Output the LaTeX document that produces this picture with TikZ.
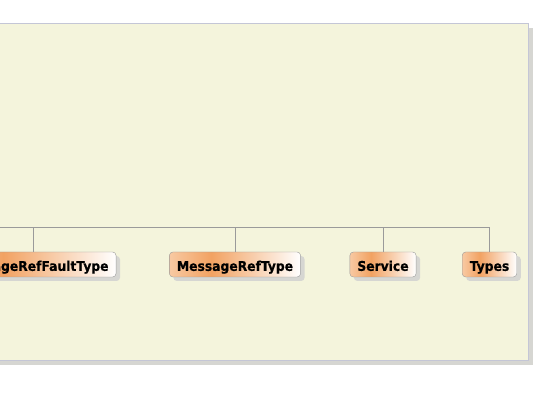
\documentclass[tikz,border=0pt]{standalone}
\usepackage{fontspec}
\setsansfont{DejaVu Sans}
\newfontfamily\TypeFont{DejaVu Sans Bold}[FakeStretch=0.92, FakeBold=0.6]
\usetikzlibrary{shadows}
\definecolor{PanelFill}{HTML}{F4F4DC}
\definecolor{PanelBorder}{HTML}{C4C6D6}
\definecolor{ShadowGray}{HTML}{D6D6D2}
\definecolor{NodeBorder}{HTML}{9A9A9A}
\definecolor{ConnectorGray}{HTML}{9A9A9A}
\definecolor{OrangeLight}{HTML}{F8C9A2}
\definecolor{OrangeDark}{HTML}{F2A262}
\pgfdeclarehorizontalshading{TypeShading}{100bp}{color(0bp)=(OrangeLight); color(25bp)=(OrangeLight); color(41bp)=(OrangeDark); color(75bp)=(white); color(100bp)=(white)}
\tikzset{
    typebox/.style={draw=NodeBorder, rounded corners=3.5pt, shading=TypeShading,
        minimum height=25pt, inner xsep=7.5pt, inner ysep=0pt,
        text height=12.7pt, text depth=0pt,
        font=\TypeFont\fontsize{13.4}{15}\selectfont,
        drop shadow={shadow xshift=4pt, shadow yshift=-4pt, fill=ShadowGray, opacity=1}},
    connector/.style={draw=ConnectorGray, line width=0.8pt}
}

\begin{document}
\begin{tikzpicture}[x=1pt, y=-1pt]

    \useasboundingbox (0, 0) rectangle (536, 403);
    \clip (0, 0) rectangle (536, 403);

    % Fondo del paquete
    \fill[ShadowGray] (-20, 28) rectangle (533, 365);
    \draw[PanelBorder, fill=PanelFill, line width=0.8pt] (-20, 23) rectangle (528, 360);

    \node[typebox] (MessageRefFaultType) at (33, 264.5) {MessageRefFaultType};
    \node[typebox] (MessageRefType) at (235, 264.5) {MessageRefType};
    \node[typebox] (Service) at (383, 264.5) {Service};
    \node[typebox] (Types) at (489.5, 264.5) {Types};

    \coordinate (BusLeft) at (-20, 227);

    \draw[connector] (Types.north) |- (BusLeft);
    \draw[connector] (Service.north) -- (Service.north |- BusLeft);
    \draw[connector] (MessageRefType.north) -- (MessageRefType.north |- BusLeft);
    \draw[connector] (MessageRefFaultType.north) -- (MessageRefFaultType.north |- BusLeft);

\end{tikzpicture}
\end{document}
